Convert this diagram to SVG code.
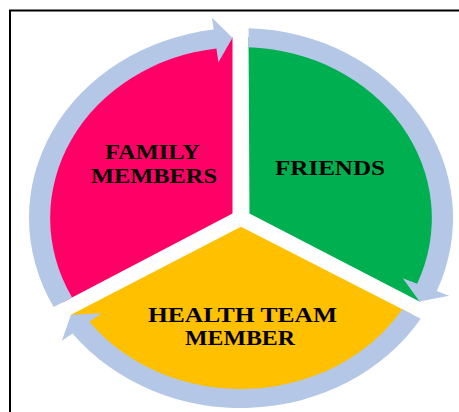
<svg xmlns="http://www.w3.org/2000/svg" width="459" height="412" viewBox="0 0 459 412">
<style>
.lbl{font-family:"Liberation Serif","Times New Roman",serif;font-weight:bold;font-size:21px;fill:#000;text-anchor:middle}
.ring{fill:#B4C7E7}
</style>
<defs>
<path id="sector" d="M -7.6 -4.39 L -160.0 84.6 A 181 181 0 0 1 -7.6 -180.84 Z"/>
<path id="arrow" d="M -151.37 79.52 L -167.83 89.02 A 190 190 0 0 1 -24.47 -188.42 L -26.02 -200.32 L -7.6 -180.34 L -20.22 -155.69 L -22.02 -169.58 A 171 171 0 0 0 -151.37 79.52 Z"/>
</defs>
<rect width="459" height="412" fill="#fff"/>
<path d="M 10 414 V 10.5 H 461" fill="none" stroke="#000" stroke-width="2"/>
<g id="family">
<use href="#sector" fill="#FF0066" transform="translate(241,218) scale(1.116,1)"/>
</g>
<g id="friends">
<use href="#sector" fill="#00B050" transform="translate(241,218) scale(1.116,1) rotate(120)"/>
</g>
<g id="health">
<use href="#sector" fill="#FFC000" transform="translate(241,218) scale(1.116,1) rotate(240)"/>
</g>
<g id="connectors" class="ring">
<use href="#arrow" transform="translate(241,218) scale(1.116,1)"/>
<use href="#arrow" transform="translate(241,218) scale(1.116,1) rotate(120)"/>
<use href="#arrow" transform="translate(241,218) scale(1.116,1) rotate(240)"/>
</g>
<g id="labels">
<text class="lbl" x="152.5" y="159" textLength="95" lengthAdjust="spacingAndGlyphs">FAMILY</text>
<text class="lbl" x="154" y="183" textLength="126" lengthAdjust="spacingAndGlyphs">MEMBERS</text>
<text class="lbl" x="330" y="175" textLength="110" lengthAdjust="spacingAndGlyphs">FRIENDS</text>
<text class="lbl" x="242.5" y="322" textLength="189" lengthAdjust="spacingAndGlyphs">HEALTH TEAM</text>
<text class="lbl" x="240" y="345" textLength="110" lengthAdjust="spacingAndGlyphs">MEMBER</text>
</g>
</svg>
